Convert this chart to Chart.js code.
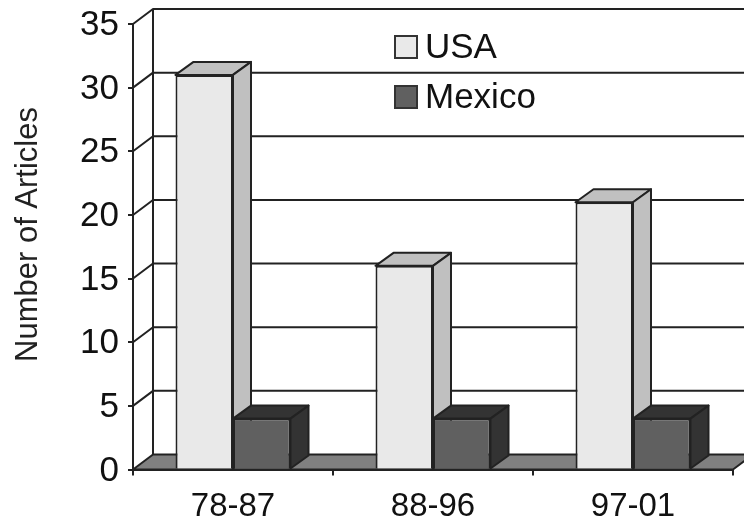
<!DOCTYPE html>
<html>
<head>
<meta charset="utf-8">
<title>Number of Articles</title>
<script src="https://cdn.jsdelivr.net/npm/chart.js@4"></script>
<style>
    html, body { margin: 0; padding: 0; background: #fff; overflow: hidden; }
    canvas { display: block; }
</style>
</head>
<body>
<canvas id="articles-chart" width="744" height="523"></canvas>
<script>
const categories = ['78-87', '88-96', '97-01'];
const usaValues = [31, 16, 21];
const mexicoValues = [4, 4, 4];
const yMax = 35;
const yStep = 5;
const yTitle = 'Number of Articles';

const FONT = '"Liberation Sans", Arial, sans-serif';
const INK = '#222';

// pseudo-3D offsets
const wallDx = 20, wallDy = -15;
const barDx = 18, barDy = -13;

const faceColors = [
    { front: '#e9e9e9', depth: '#c0c0c0' },
    { front: '#606060', depth: '#333333' }
];

function polygon(ctx, points, fill) {
    ctx.beginPath();
    points.forEach((p, i) => i ? ctx.lineTo(p[0], p[1]) : ctx.moveTo(p[0], p[1]));
    ctx.closePath();
    if (fill) {
        ctx.fillStyle = fill;
        ctx.fill();
    }
    ctx.stroke();
}

const box3d = {
    id: 'box3d',
    beforeDatasetsDraw(chart) {
        const { ctx, scales: { x, y }, width } = chart;
        const left = x.left, right = x.right;
        const base = y.getPixelForValue(0);

        ctx.save();
        ctx.strokeStyle = INK;
        ctx.lineWidth = 2;
        ctx.lineJoin = 'round';

        // back wall and its gridlines
        for (let v = yStep; v <= yMax; v += yStep) {
            const py = y.getPixelForValue(v);
            ctx.beginPath();
            ctx.moveTo(left, py);
            ctx.lineTo(left + wallDx, py + wallDy);
            ctx.lineTo(width, py + wallDy);
            ctx.stroke();
        }
        ctx.beginPath();
        ctx.moveTo(left + wallDx, y.getPixelForValue(yMax) + wallDy);
        ctx.lineTo(left + wallDx, base + wallDy);
        ctx.stroke();

        // floor
        polygon(ctx, [
            [left, base],
            [right, base],
            [right + wallDx, base + wallDy],
            [left + wallDx, base + wallDy]
        ], '#808080');

        // top and side faces of the bars
        categories.forEach((cat, i) => {
            faceColors.forEach((colors, d) => {
                const bar = chart.getDatasetMeta(d).data[i];
                const l = bar.x - bar.width / 2;
                const r = bar.x + bar.width / 2;
                polygon(ctx, [
                    [l, bar.y],
                    [l + barDx, bar.y + barDy],
                    [r + barDx, bar.y + barDy],
                    [r, bar.y]
                ], colors.depth);
                polygon(ctx, [
                    [r, bar.y],
                    [r + barDx, bar.y + barDy],
                    [r + barDx, bar.base + barDy],
                    [r, bar.base]
                ], colors.depth);
            });
        });
        ctx.restore();
    },
    afterDraw(chart) {
        const { ctx } = chart;
        ctx.save();

        // legend
        ctx.strokeStyle = '#333';
        ctx.lineWidth = 2;
        chart.data.datasets.forEach((ds, d) => {
            const top = 36 + d * 50;
            ctx.fillStyle = ds.backgroundColor;
            ctx.fillRect(395, top, 22, 22);
            ctx.strokeRect(395, top, 22, 22);
            ctx.fillStyle = '#111';
            ctx.font = '35px ' + FONT;
            ctx.textAlign = 'left';
            ctx.textBaseline = 'alphabetic';
            ctx.fillText(ds.label, 425, top + 22);
        });

        // y axis title
        ctx.translate(37, 234.5);
        ctx.rotate(-Math.PI / 2);
        ctx.fillStyle = '#222';
        ctx.font = '31px ' + FONT;
        ctx.textAlign = 'center';
        ctx.fillText(yTitle, 0, 0);
        ctx.restore();
    }
};

new Chart(document.getElementById('articles-chart').getContext('2d'), {
    type: 'bar',
    data: {
        labels: categories,
        datasets: [
            {
                label: 'USA',
                data: usaValues,
                backgroundColor: faceColors[0].front,
                borderColor: INK,
                borderWidth: 2
            },
            {
                label: 'Mexico',
                data: mexicoValues,
                backgroundColor: faceColors[1].front,
                borderColor: INK,
                borderWidth: 2
            }
        ]
    },
    options: {
        responsive: false,
        animation: false,
        categoryPercentage: 0.575,
        barPercentage: 1,
        layout: { padding: { top: 24, right: 11, left: 0, bottom: 0 } },
        plugins: {
            legend: { display: false },
            tooltip: { enabled: false }
        },
        scales: {
            x: {
                afterFit(scale) { scale.height = 53.5; },
                border: { display: true, color: INK, width: 2 },
                grid: { drawOnChartArea: false, color: INK, lineWidth: 2, tickLength: 6 },
                ticks: { color: '#111', padding: 12, maxRotation: 0, font: { family: FONT, size: 33 } }
            },
            y: {
                min: 0,
                max: yMax,
                afterFit(scale) {
                    scale.width = 133;
                    scale.paddingTop = 0;
                    scale.paddingBottom = 0;
                },
                border: { display: true, color: INK, width: 2 },
                grid: { drawOnChartArea: false, color: INK, lineWidth: 2, tickLength: 5 },
                ticks: { stepSize: yStep, color: '#111', padding: 9, labelOffset: 1.5, font: { family: FONT, size: 35 } }
            }
        }
    },
    plugins: [box3d]
});
</script>
</body>
</html>
